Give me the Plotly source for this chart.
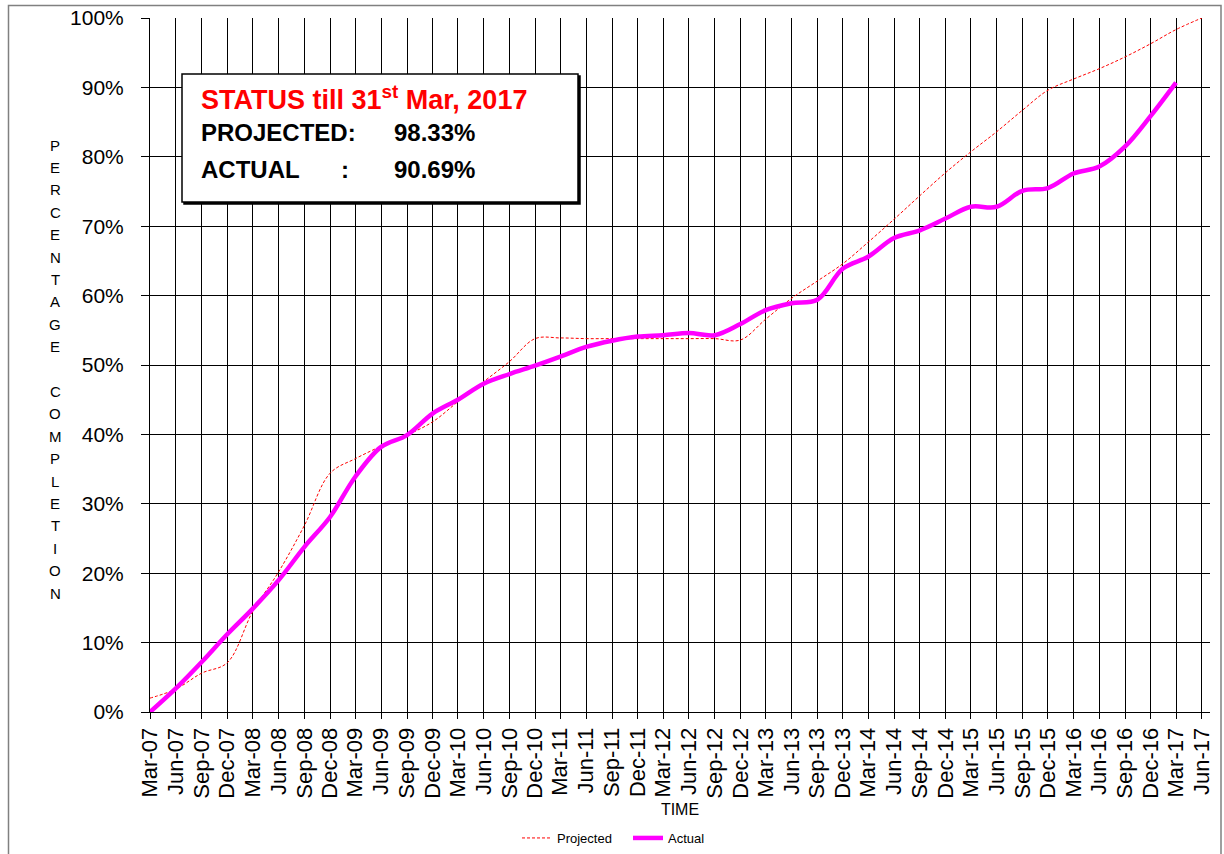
import pandas as pd
import plotly.graph_objects as go

# ---------------- data ----------------
quarters = ["Mar-07", "Jun-07", "Sep-07", "Dec-07", "Mar-08", "Jun-08", "Sep-08", "Dec-08",
            "Mar-09", "Jun-09", "Sep-09", "Dec-09", "Mar-10", "Jun-10", "Sep-10", "Dec-10",
            "Mar-11", "Jun-11", "Sep-11", "Dec-11", "Mar-12", "Jun-12", "Sep-12", "Dec-12",
            "Mar-13", "Jun-13", "Sep-13", "Dec-13", "Mar-14", "Jun-14", "Sep-14", "Dec-14",
            "Mar-15", "Jun-15", "Sep-15", "Dec-15", "Mar-16", "Jun-16", "Sep-16", "Dec-16",
            "Mar-17", "Jun-17"]

projected = [2.0, 3.3, 5.6, 7.1, 14.5, 20.2, 26.9, 34.4,
             36.5, 38.3, 39.9, 41.8, 44.7, 47.6, 50.5, 53.8,
             53.9, 53.8, 53.8, 53.8, 53.8, 53.8, 53.8, 53.6,
             56.6, 59.6, 62.1, 64.6, 67.7, 71.0, 74.4, 77.7,
             80.7, 83.6, 86.7, 89.6, 91.2, 92.7, 94.4, 96.3,
             98.33, 100.0]

actual = [0.0, 3.4, 7.2, 11.2, 14.9, 19.0, 23.8, 28.1,
          33.9, 38.2, 39.9, 43.0, 45.0, 47.3, 48.7, 49.9,
          51.2, 52.6, 53.5, 54.1, 54.3, 54.6, 54.3, 55.9,
          57.9, 58.9, 59.4, 63.9, 65.6, 68.3, 69.4, 71.1,
          72.8, 72.8, 75.1, 75.5, 77.6, 78.6, 81.5, 85.9,
          90.69]

status_title = "STATUS till 31<sup>st</sup> Mar, 2017"
status_projected = "98.33%"
status_actual = "90.69%"
y_title_words = ["PERCENTAGE", "COMPLETION"]
x_title = "TIME"

# ---------------- figure ----------------
dates = pd.to_datetime(quarters, format="%b-%y")
proj_frac = [v / 100 for v in projected]
act_frac = [v / 100 for v in actual]

fig = go.Figure()
fig.add_trace(go.Scatter(
    x=dates[:len(projected)], y=proj_frac, name="Projected", mode="lines",
    line=dict(color="#FF0000", width=1, dash="3px,2px", shape="spline", smoothing=1.0),
))
fig.add_trace(go.Scatter(
    x=dates[:len(actual)], y=act_frac, name="Actual", mode="lines",
    line=dict(color="#FF00FF", width=4.5, shape="spline", smoothing=1.0),
))

FIG_W, FIG_H = 1224, 854
# plot area in page pixels: x 150..1210, y 18..712
L, R, T, B = 150, 1210, 18, 712
W, H = R - L, B - T


def px(x):
    return (x - L) / W


def py(y):
    return (B - y) / H


annotations = []
# stacked vertical y-axis title
letters = list(y_title_words[0]) + [" "] + list(y_title_words[1])
for i, ch in enumerate(letters):
    if ch == " ":
        continue
    annotations.append(dict(
        text=ch, xref="paper", yref="paper", x=px(55), y=py(145 + i * 22.4),
        showarrow=False, xanchor="center", yanchor="middle",
        font=dict(family="Liberation Sans, Arial", size=15, color="#000000"),
    ))

# status box texts
box_font = "Liberation Sans, Arial"
body = dict(family=box_font, size=24, color="#000000", weight="bold")
annotations.append(dict(
    text=status_title, xref="paper", yref="paper", x=px(199), y=py(98),
    showarrow=False, xanchor="left", yanchor="middle",
    font=dict(family=box_font, size=27, color="#FF0000", weight="bold"),
))
annotations.append(dict(
    text="PROJECTED:", xref="paper", yref="paper", x=px(199), y=py(132),
    showarrow=False, xanchor="left", yanchor="middle", font=body,
))
annotations.append(dict(
    text=status_projected, xref="paper", yref="paper", x=px(392), y=py(132),
    showarrow=False, xanchor="left", yanchor="middle", font=body,
))
annotations.append(dict(
    text="ACTUAL", xref="paper", yref="paper", x=px(199), y=py(170),
    showarrow=False, xanchor="left", yanchor="middle", font=body,
))
annotations.append(dict(
    text=":", xref="paper", yref="paper", x=px(345), y=py(170),
    showarrow=False, xanchor="center", yanchor="middle", font=body,
))
annotations.append(dict(
    text=status_actual, xref="paper", yref="paper", x=px(392), y=py(170),
    showarrow=False, xanchor="left", yanchor="middle", font=body,
))

shapes = [
    # outer chart border
    dict(type="rect", xref="paper", yref="paper", x0=px(8.5), x1=px(1221), y0=py(870), y1=py(5.5),
         line=dict(color="#808080", width=1.5), fillcolor="rgba(0,0,0,0)", layer="below"),
    # box shadow
    dict(type="rect", xref="paper", yref="paper", x0=px(184), x1=px(580), y0=py(204), y1=py(76),
         line=dict(color="#000000", width=1.5), fillcolor="#000000", layer="above"),
    # status box
    dict(type="rect", xref="paper", yref="paper", x0=px(182), x1=px(578), y0=py(202), y1=py(74),
         line=dict(color="#000000", width=1.5), fillcolor="#FFFFFF", layer="above"),
]

fig.update_layout(
    width=FIG_W, height=FIG_H,
    margin=dict(l=L, r=FIG_W - R, t=T, b=FIG_H - B, pad=0, autoexpand=False),
    paper_bgcolor="#FFFFFF", plot_bgcolor="#FFFFFF",
    font=dict(family="Liberation Sans, Arial", color="#000000"),
    showlegend=True,
    legend=dict(orientation="h", x=px(517), y=py(838), xanchor="left", yanchor="middle",
                font=dict(size=13, family="Liberation Sans, Arial"), bgcolor="rgba(0,0,0,0)",
                itemwidth=30, entrywidth=66, entrywidthmode="pixels", tracegroupgap=0),
    annotations=annotations,
    shapes=shapes,
)

fig.update_xaxes(
    type="date", automargin=False,
    range=[pd.Timestamp("2007-03-01"), pd.Timestamp("2017-06-30")],
    tick0="2007-03-01", dtick="M3", tickformat="%b-%y",
    tickangle=-90, tickfont=dict(size=22, color="#000000"),
    ticks="outside", ticklen=6, tickcolor="#000000", tickwidth=1,
    showgrid=True, gridcolor="#000000", gridwidth=1,
    showline=True, linecolor="#000000", linewidth=1,
    zeroline=False, ticklabeloverflow="allow",
    title=dict(text=x_title, font=dict(size=16, color="#000000"), standoff=6),
)
fig.update_yaxes(
    automargin=False,
    range=[0, 1], dtick=0.1, tickformat=".0%",
    tickfont=dict(size=21, color="#000000"),
    ticks="outside", ticklen=8, tickcolor="#000000", tickwidth=1,
    ticklabelstandoff=13, ticklabeloverflow="allow",
    showgrid=True, gridcolor="#000000", gridwidth=1,
    showline=True, linecolor="#000000", linewidth=1,
    zeroline=False,
)

# remove the browser's default 8px body margin so the figure sits at the page origin
fig.write_html("out.html", config={"displayModeBar": False},
               post_script="document.body.style.margin='0';document.body.style.overflow='hidden';")
